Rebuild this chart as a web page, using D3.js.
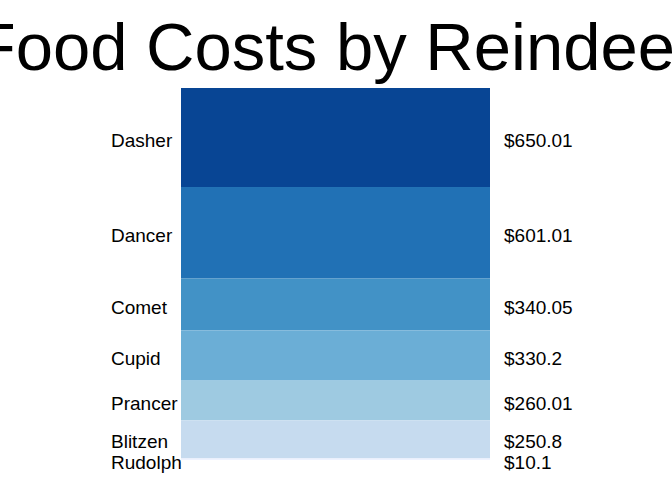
<!DOCTYPE html>
<html>
<head>
<meta charset="utf-8">
<script src="https://cdn.jsdelivr.net/npm/d3@7"></script>
<style>
  body { margin: 0; background: #fff; }
  text { font-family: "Liberation Sans", Arial, sans-serif; }
</style>
</head>
<body>
<div id="chart"></div>
<script>
// Reindeer food costs, top of stack first.
const reindeer = ["Dasher", "Dancer", "Comet", "Cupid", "Prancer", "Blitzen", "Rudolph"];
const costs = [650.01, 601.01, 340.05, 330.2, 260.01, 250.8, 10.1];
const costLabels = ["$650.01", "$601.01", "$340.05", "$330.2", "$260.01", "$250.8", "$10.1"];
const blues = ["#084594", "#2171b5", "#4292c6", "#6baed6", "#9ecae1", "#c6dbef", "#eff3ff"];

const width = 672, height = 480;
const barLeft = 181, barRight = 490;
const barTop = 88, barBottom = 460;

const total = d3.sum(costs);

// Build stack: start/end cumulative values.
let acc = 0;
const stacked = reindeer.map((name, i) => {
    const d = { name: name, value: costs[i], label: costLabels[i], color: blues[i], y0: acc, y1: acc + costs[i] };
    acc += costs[i];
    return d;
});

const y = d3.scaleLinear()
    .domain([0, total])
    .range([barTop, barBottom]);

const svg = d3.create("svg")
    .attr("width", width)
    .attr("height", height)
    .attr("viewBox", [0, 0, width, height]);

svg.append("g")
    .selectAll("rect")
    .data(stacked)
    .join("rect")
    .attr("x", barLeft)
    .attr("y", d => y(d.y0))
    .attr("width", barRight - barLeft)
    .attr("height", d => y(d.y1) - y(d.y0))
    .attr("fill", d => d.color);

// Label positions: segment middle, pushed down so they don't overlap.
const minGap = 21;
let prev = -Infinity;
stacked.forEach(d => {
    let pos = (y(d.y0) + y(d.y1)) / 2;
    if (pos < prev + minGap) pos = prev + minGap;
    d.labelY = pos;
    prev = pos;
});

svg.append("g")
    .selectAll("text")
    .data(stacked)
    .join("text")
    .attr("x", 111)
    .attr("y", d => d.labelY)
    .attr("dy", "0.48em")
    .attr("font-size", 19)
    .attr("fill", "#000")
    .text(d => d.name);

svg.append("g")
    .selectAll("text")
    .data(stacked)
    .join("text")
    .attr("x", 504)
    .attr("y", d => d.labelY)
    .attr("dy", "0.48em")
    .attr("font-size", 19)
    .attr("fill", "#000")
    .text(d => d.label);

svg.append("text")
    .attr("x", width / 2)
    .attr("y", 70)
    .attr("text-anchor", "middle")
    .attr("font-size", 67)
    .attr("fill", "#000")
    .text("Food Costs by Reindeer");

document.getElementById("chart").appendChild(svg.node());
</script>
</body>
</html>
